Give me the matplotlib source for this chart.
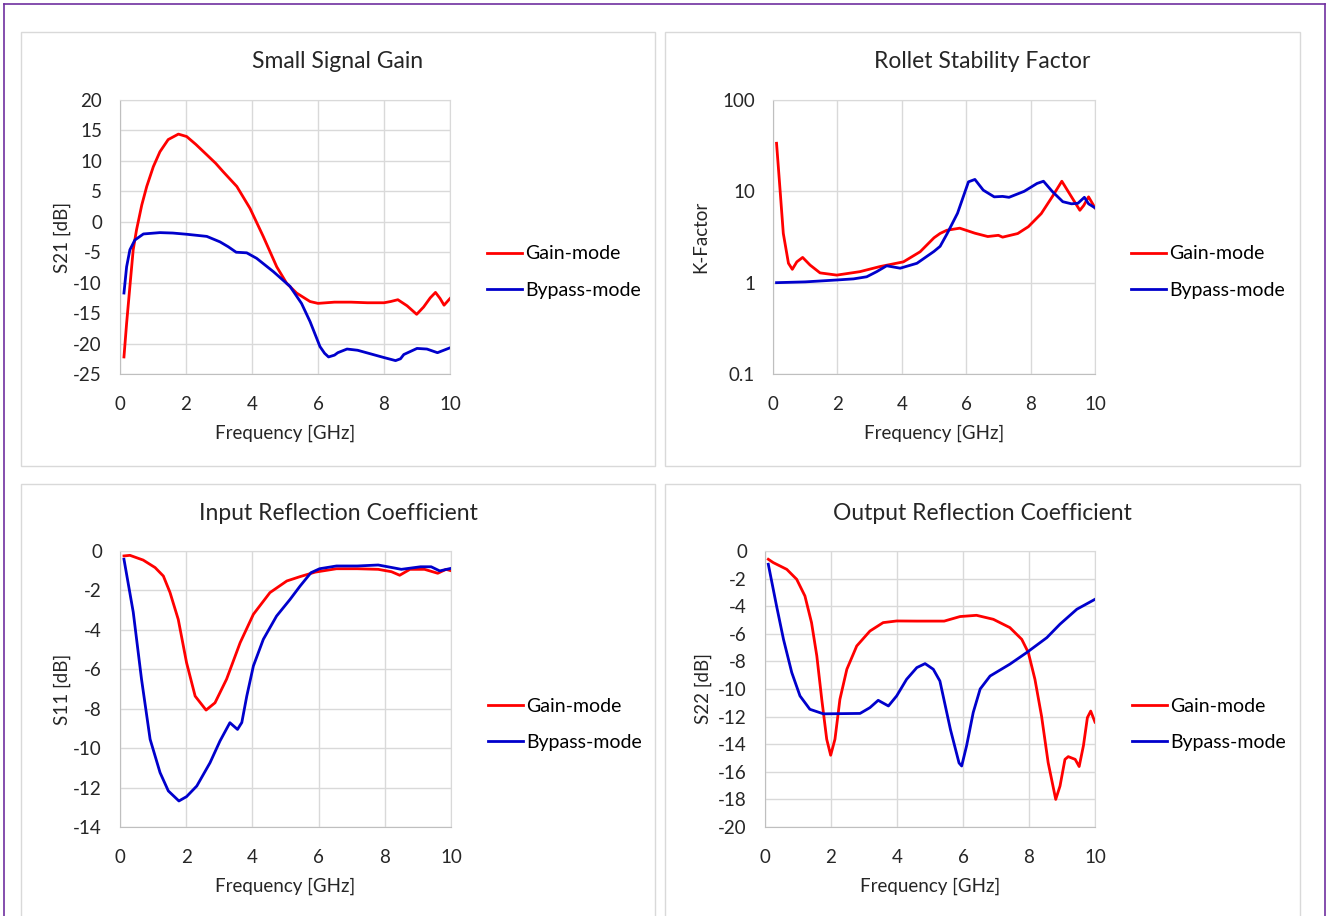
import numpy as np
import matplotlib
matplotlib.use("Agg")
import matplotlib.pyplot as plt
from matplotlib.patches import Rectangle
from matplotlib.lines import Line2D
from matplotlib.ticker import FixedLocator, FixedFormatter, NullLocator

plt.rcParams['font.family'] = ['Lato', 'DejaVu Sans']
plt.rcParams['axes.unicode_minus'] = False

# S21 small signal gain
f21_gain = [0.12, 0.2, 0.3, 0.4, 0.5, 0.66, 0.81, 1.01, 1.21, 1.46, 1.77, 2.02, 2.3, 2.63, 2.9, 3.13,
            3.54, 3.94, 4.34, 4.75, 5.05, 5.35, 5.76, 6.0, 6.5, 7.0, 7.5, 8.0, 8.2, 8.42, 8.7, 8.99,
            9.2, 9.4, 9.56, 9.7, 9.82, 10.0]
s21_gain = [-22.2, -16.7, -10.6, -4.6, -1.35, 2.76, 5.8, 9.05, 11.5, 13.5, 14.4, 14.0, 12.7, 11.0, 9.6,
            8.2, 5.8, 2.2, -2.4, -7.4, -10.1, -11.7, -13.1, -13.4, -13.2, -13.2, -13.3, -13.3, -13.1,
            -12.8, -13.8, -15.2, -14.0, -12.5, -11.6, -12.6, -13.7, -12.6]
f21_byp = [0.12, 0.2, 0.3, 0.45, 0.71, 1.21, 1.6, 2.02, 2.63, 3.03, 3.28, 3.52, 3.84, 4.14, 4.65,
           5.15, 5.5, 5.76, 6.06, 6.2, 6.32, 6.5, 6.6, 6.88, 7.2, 7.6, 8.0, 8.35, 8.5, 8.6, 9.0, 9.3,
           9.62, 10.0]
s21_byp = [-11.7, -7.4, -4.6, -3.0, -2.0, -1.78, -1.85, -2.05, -2.4, -3.3, -4.1, -5.0, -5.1, -6.0, -8.2,
           -10.6, -13.4, -16.4, -20.5, -21.6, -22.2, -21.9, -21.5, -20.9, -21.1, -21.7, -22.3, -22.8,
           -22.5, -21.8, -20.8, -20.9, -21.5, -20.7]

# Rollet stability factor K
fk_gain = [0.11, 0.22, 0.32, 0.48, 0.6, 0.74, 0.92, 1.15, 1.46, 1.98, 2.7, 3.32, 4.05, 4.57, 5.0,
           5.19, 5.4, 5.8, 6.27, 6.67, 7.0, 7.13, 7.6, 7.93, 8.33, 8.67, 8.97, 9.27, 9.53, 9.65,
           9.8, 10.0]
k_gain = [33.6, 10.3, 3.46, 1.63, 1.4, 1.69, 1.89, 1.56, 1.28, 1.21, 1.32, 1.5, 1.69, 2.18, 3.1,
          3.46, 3.75, 3.95, 3.48, 3.2, 3.3, 3.15, 3.45, 4.1, 5.7, 8.7, 12.9, 8.7, 6.2, 7.0,
          8.7, 6.6]
fk_byp = [0.11, 1.0, 1.98, 2.5, 2.91, 3.22, 3.53, 3.95, 4.47, 5.0, 5.19, 5.4, 5.73, 6.07, 6.27,
          6.53, 6.87, 7.13, 7.33, 7.8, 8.2, 8.4, 8.67, 9.0, 9.27, 9.47, 9.67, 9.8, 10.0]
k_byp = [1.0, 1.02, 1.07, 1.1, 1.16, 1.32, 1.53, 1.44, 1.63, 2.2, 2.5, 3.4, 5.75, 12.7, 13.5,
         10.3, 8.7, 8.8, 8.6, 10.0, 12.2, 12.9, 10.0, 7.7, 7.3, 7.4, 8.6, 7.3, 6.6]

# S11 input reflection
f11_gain = [0.12, 0.3, 0.7, 1.06, 1.31, 1.51, 1.76, 2.01, 2.27, 2.6, 2.87, 3.22, 3.63, 4.03, 4.53,
            5.04, 5.44, 5.9, 6.54, 7.17, 7.8, 8.2, 8.45, 8.76, 9.2, 9.6, 9.85, 10.0]
s11_gain = [-0.25, -0.22, -0.46, -0.84, -1.27, -2.1, -3.47, -5.66, -7.36, -8.07, -7.7, -6.5, -4.65,
            -3.21, -2.11, -1.52, -1.3, -1.07, -0.9, -0.9, -0.93, -1.05, -1.23, -0.93, -0.93, -1.13,
            -0.93, -1.0]
f11_byp = [0.12, 0.4, 0.65, 0.91, 1.21, 1.46, 1.78, 2.01, 2.32, 2.72, 3.02, 3.32, 3.55, 3.68, 3.83,
           4.03, 4.33, 4.73, 5.14, 5.44, 5.77, 6.03, 6.54, 7.17, 7.8, 8.25, 8.5, 9.08, 9.4, 9.66, 10.0]
s11_byp = [-0.42, -3.1, -6.5, -9.55, -11.24, -12.17, -12.68, -12.46, -11.92, -10.74, -9.64, -8.71,
           -9.05, -8.7, -7.36, -5.83, -4.48, -3.3, -2.45, -1.78, -1.1, -0.9, -0.76, -0.76, -0.71,
           -0.85, -0.93, -0.8, -0.8, -1.01, -0.88]

# S22 output reflection
f22_gain = [0.1, 0.25, 0.66, 0.96, 1.21, 1.41, 1.57, 1.72, 1.87, 1.99, 2.12, 2.27, 2.48, 2.78, 3.18,
            3.58, 3.99, 4.6, 5.43, 5.91, 6.41, 6.92, 7.42, 7.78, 7.98, 8.18, 8.38, 8.58, 8.81, 8.94,
            9.09, 9.19, 9.4, 9.52, 9.65, 9.77, 9.87, 10.0]
s22_gain = [-0.6, -0.84, -1.33, -2.05, -3.26, -5.19, -7.6, -10.75, -13.64, -14.8, -13.64, -10.75,
            -8.57, -6.88, -5.8, -5.19, -5.07, -5.08, -5.08, -4.75, -4.66, -4.95, -5.55, -6.4, -7.36,
            -9.3, -11.96, -15.33, -18.0, -17.03, -15.1, -14.9, -15.1, -15.62, -14.1, -12.07, -11.6,
            -12.4]
f22_byp = [0.1, 0.35, 0.56, 0.81, 1.06, 1.36, 1.77, 2.88, 3.18, 3.43, 3.74, 3.99, 4.29, 4.6, 4.85,
           5.1, 5.3, 5.62, 5.88, 5.96, 6.11, 6.31, 6.52, 6.82, 7.42, 7.93, 8.54, 8.94, 9.45, 10.0]
s22_byp = [-0.96, -3.98, -6.4, -8.8, -10.5, -11.47, -11.8, -11.77, -11.35, -10.82, -11.23, -10.5,
           -9.3, -8.45, -8.16, -8.57, -9.42, -12.94, -15.36, -15.58, -14.1, -11.7, -10.0, -9.06,
           -8.2, -7.36, -6.28, -5.3, -4.22, -3.5]

W, H = 1331, 916
fig = plt.figure(figsize=(W / 100, H / 100), dpi=100)

# outer purple frame
fig.add_artist(Line2D([4 / W, 4 / W], [0, 1 - 4 / H], color='#7030A0', lw=1.2))
fig.add_artist(Line2D([4 / W, 1325 / W], [1 - 4 / H, 1 - 4 / H], color='#7030A0', lw=1.2))
fig.add_artist(Line2D([1325 / W, 1325 / W], [0, 1 - 4 / H], color='#7030A0', lw=1.2))


def px_rect(x0, y0, x1, y1):
    return [x0 / W, 1 - y1 / H, (x1 - x0) / W, (y1 - y0) / H]


panels = [
    dict(box=(21, 32, 655, 466), ax=(120, 100, 450, 374), title='Small Signal Gain', title_y=61,
         ylabel='S21 [dB]', ylab_x=62,
         data=[(f21_gain, s21_gain), (f21_byp, s21_byp)], ylim=(-25, 20), yticks=np.arange(-25, 21, 5)),
    dict(box=(665, 32, 1300, 466), ax=(773, 100, 1095, 374), title='Rollet Stability Factor', title_y=61,
         ylabel='K-Factor', ylab_x=701,
         data=[(fk_gain, k_gain), (fk_byp, k_byp)], ylim=(0.1, 100), yticks=None),
    dict(box=(21, 484, 655, 930), ax=(120, 551, 451, 827), title='Input Reflection Coefficient', title_y=513,
         ylabel='S11 [dB]', ylab_x=62,
         data=[(f11_gain, s11_gain), (f11_byp, s11_byp)], ylim=(-14, 0), yticks=np.arange(-14, 1, 2)),
    dict(box=(665, 484, 1300, 930), ax=(765, 551, 1095, 827), title='Output Reflection Coefficient', title_y=513,
         ylabel='S22 [dB]', ylab_x=703,
         data=[(f22_gain, s22_gain), (f22_byp, s22_byp)], ylim=(-20, 0), yticks=np.arange(-20, 1, 2)),
]

grid_c = '#D9D9D9'
txt_c = '#262626'

for p in panels:
    bx = p['box']
    fig.add_artist(Rectangle((bx[0] / W, 1 - bx[3] / H), (bx[2] - bx[0]) / W, (bx[3] - bx[1]) / H,
                             transform=fig.transFigure, fill=False, edgecolor=grid_c, lw=1.0))
    fig.text((bx[0] + bx[2]) / 2 / W, 1 - p['title_y'] / H, p['title'], fontsize=16.5, color=txt_c,
             ha='center', va='center')
    a = p['ax']
    ax = fig.add_axes(px_rect(*a))
    (fg, yg), (fb, yb) = p['data']
    ax.plot(fg, yg, color='#FF0000', lw=2.0, label='Gain-mode')
    ax.plot(fb, yb, color='#0000CC', lw=2.0, label='Bypass-mode')
    ax.set_xlim(0, 10)
    ax.set_xticks(np.arange(0, 11, 2))
    if p['yticks'] is None:
        ax.set_yscale('log')
        ax.set_ylim(*p['ylim'])
        ax.yaxis.set_major_locator(FixedLocator([0.1, 1, 10, 100]))
        ax.yaxis.set_major_formatter(FixedFormatter(['0.1', '1', '10', '100']))
        ax.yaxis.set_minor_locator(NullLocator())
    else:
        ax.set_ylim(*p['ylim'])
        ax.set_yticks(p['yticks'])
    ax.grid(True, color=grid_c, lw=1.0)
    ax.set_axisbelow(True)
    for s in ['top', 'right']:
        ax.spines[s].set_color(grid_c)
    for s in ['left', 'bottom']:
        ax.spines[s].set_color('#BFBFBF')
    ax.tick_params(length=0, labelsize=13.5, colors=txt_c)
    ax.tick_params(axis='x', pad=16)
    ax.tick_params(axis='y', pad=13)
    ax.set_xlabel('Frequency [GHz]', fontsize=13.5, color=txt_c, labelpad=8)
    ax.set_ylabel(p['ylabel'], fontsize=13.5, color=txt_c, va='center')
    ax.yaxis.set_label_coords((p['ylab_x'] - a[0]) / (a[2] - a[0]), 0.5)
    ax.legend(loc='center left', bbox_to_anchor=(1.083, 0.372), frameon=False, fontsize=14,
              handlelength=1.8, handletextpad=0.15, labelspacing=1.0, borderpad=0)

fig.savefig('out.png', dpi=100, facecolor='white')
